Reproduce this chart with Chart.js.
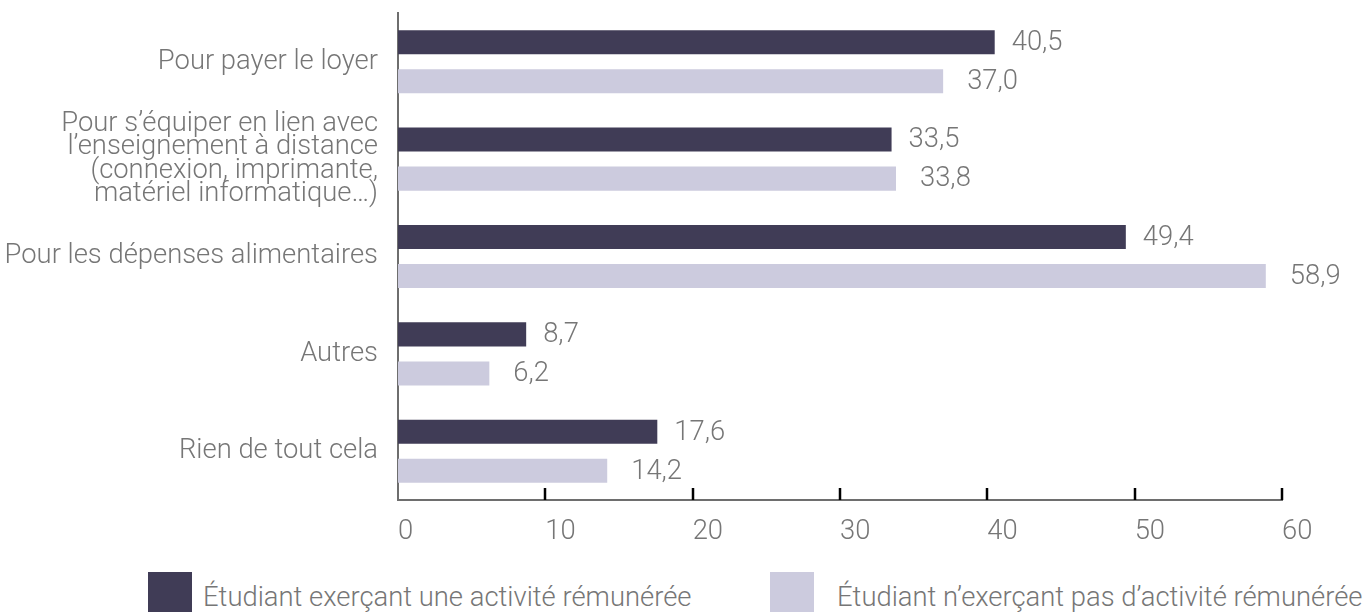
<!DOCTYPE html>
<html lang="fr">
<head>
<meta charset="utf-8">
<script src="https://cdn.jsdelivr.net/npm/chart.js@4.4.0/dist/chart.umd.min.js"></script>
<style>
  html, body { margin: 0; padding: 0; background: #fff; overflow: hidden; }
  #wrap { position: relative; width: 1366px; height: 612px; overflow: hidden; }
  #chartBox { position: absolute; left: 0; top: 0; width: 1366px; height: 560px; }
  .swatch { position: absolute; top: 572px; width: 44px; height: 44px; }
  .legend-text {
    position: absolute; top: 584px; line-height: 27px; white-space: nowrap;
    font-family: Roboto, "Open Sans", sans-serif; font-weight: 300; font-size: 27.4px; color: #767676;
  }
</style>
</head>
<body>
<div id="wrap">
  <div id="chartBox"><canvas id="chart"></canvas></div>
  <div id="legend"></div>
</div>
<script>
const categories = [
  "Pour payer le loyer",
  ["Pour s’équiper en lien avec", "l’enseignement à distance", "(connexion, imprimante,", "matériel informatique…)"],
  "Pour les dépenses alimentaires",
  "Autres",
  "Rien de tout cela"
];
const seriesNames = [
  "Étudiant exerçant une activité rémunérée",
  "Étudiant n’exerçant pas d’activité rémunérée"
];
const workingStudents = [40.5, 33.5, 49.4, 8.7, 17.6];
const nonWorkingStudents = [37.0, 33.8, 58.9, 6.2, 14.2];
const xMin = 0, xMax = 60, xStep = 10;

const darkColor = "#403c56";
const lightColor = "#cccbde";
const textGrey = "#767676";
const axisGrey = "#6e6e6e";
const fontFamily = "Roboto, 'Open Sans', sans-serif";
const fontSize = 27.4;
const labelGap = [17, 24];

function fmt(v) {
  return v.toFixed(1).replace(".", ",");
}

// little black ticks pointing up into the plot
const tickMarks = {
  id: "tickMarks",
  afterDatasetsDraw(chart) {
    const x = chart.scales.x;
    const ctx = chart.ctx;
    ctx.save();
    ctx.strokeStyle = "#000";
    ctx.lineWidth = 2.5;
    x.ticks.forEach(t => {
      if (t.value === 0) return;
      const px = Math.round(x.getPixelForValue(t.value));
      ctx.beginPath();
      ctx.moveTo(px, x.top);
      ctx.lineTo(px, x.top - 12);
      ctx.stroke();
    });
    ctx.restore();
  }
};

// value labels right of each bar
const valueLabels = {
  id: "valueLabels",
  afterDatasetsDraw(chart) {
    const ctx = chart.ctx;
    ctx.save();
    ctx.font = "300 " + fontSize + "px " + fontFamily;
    ctx.fillStyle = textGrey;
    ctx.textAlign = "left";
    ctx.textBaseline = "middle";
    chart.data.datasets.forEach((ds, i) => {
      chart.getDatasetMeta(i).data.forEach((bar, j) => {
        ctx.fillText(fmt(ds.data[j]), bar.x + labelGap[i], bar.y + 1);
      });
    });
    ctx.restore();
  }
};

new Chart(document.getElementById("chart"), {
  type: "bar",
  data: {
    labels: categories,
    datasets: [
      { label: seriesNames[0], data: workingStudents, backgroundColor: darkColor },
      { label: seriesNames[1], data: nonWorkingStudents, backgroundColor: lightColor }
    ]
  },
  options: {
    indexAxis: "y",
    responsive: true,
    maintainAspectRatio: false,
    animation: false,
    categoryPercentage: 0.802,
    barPercentage: 0.615,
    layout: { padding: { left: 0, right: 84, top: 13, bottom: 0 } },
    plugins: {
      legend: { display: false },
      tooltip: { enabled: false }
    },
    scales: {
      x: {
        min: xMin,
        max: xMax,
        grid: { display: false, drawTicks: false },
        border: { display: true, color: axisGrey, width: 2 },
        ticks: {
          stepSize: xStep,
          align: "start",
          padding: 16,
          color: textGrey,
          font: { family: fontFamily, size: fontSize, weight: "300", lineHeight: 1.2 }
        },
        afterFit(s) {
          s.height = 60;
          s.paddingLeft = 0;
          s.paddingRight = 0;
        }
      },
      y: {
        grid: { display: false, drawTicks: false },
        border: { display: true, color: axisGrey, width: 2 },
        ticks: {
          padding: 20,
          color: textGrey,
          font: { family: fontFamily, size: fontSize, weight: "300", lineHeight: 0.86 }
        },
        afterFit(s) {
          s.width = 398;
          s.paddingTop = 0;
          s.paddingBottom = 0;
        }
      }
    }
  },
  plugins: [tickMarks, valueLabels]
});

// legend under the chart
const legend = document.getElementById("legend");
const swatchLeft = [148, 770];
const textLeft = [203, 837];
[darkColor, lightColor].forEach((c, i) => {
  const sw = document.createElement("div");
  sw.className = "swatch";
  sw.style.left = swatchLeft[i] + "px";
  sw.style.background = c;
  legend.appendChild(sw);
  const tx = document.createElement("div");
  tx.className = "legend-text";
  tx.style.left = textLeft[i] + "px";
  tx.textContent = seriesNames[i];
  legend.appendChild(tx);
});
</script>
</body>
</html>
